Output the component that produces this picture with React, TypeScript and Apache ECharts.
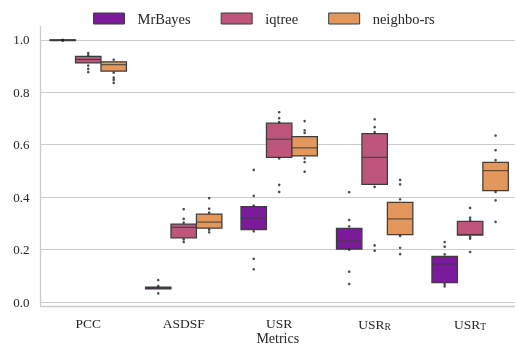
import React, { useEffect, useRef } from 'react';
import * as echarts from 'echarts';

const categories = ['PCC', 'ASDSF', 'USR', 'USR', 'USR'];
const categorySubscripts = ['', '', '', 'R', 'T'];
const seriesNames = ['MrBayes', 'iqtree', 'neighbo-rs'];
const seriesColors = ['#7b1b9b', '#c0557b', '#e3975a'];
const yTicks = [0, 0.2, 0.4, 0.6, 0.8, 1.0];

// box statistics per series, one value per category
const mrbayesQ1 = [0.997, 0.05, 0.276, 0.202, 0.074];
const mrbayesMedian = [0.999, 0.054, 0.321, 0.232, 0.145];
const mrbayesQ3 = [1.0, 0.057, 0.364, 0.281, 0.174];
const iqtreeQ1 = [0.912, 0.245, 0.552, 0.449, 0.255];
const iqtreeMedian = [0.925, 0.285, 0.621, 0.552, 0.258];
const iqtreeQ3 = [0.937, 0.297, 0.682, 0.642, 0.308];
const neighborsQ1 = [0.881, 0.282, 0.557, 0.257, 0.425];
const neighborsMedian = [0.905, 0.305, 0.588, 0.317, 0.501];
const neighborsQ3 = [0.916, 0.335, 0.631, 0.38, 0.533];

// individual points per series, one list per category
const mrbayesPoints = [
  [0.997, 1.0],
  [0.033, 0.061, 0.084],
  [0.125, 0.165, 0.27, 0.368, 0.405, 0.504],
  [0.069, 0.116, 0.2, 0.289, 0.313, 0.419],
  [0.06, 0.068, 0.182, 0.211, 0.229],
];
const iqtreePoints = [
  [0.877, 0.889, 0.902, 0.941, 0.949],
  [0.229, 0.239, 0.303, 0.317, 0.354],
  [0.42, 0.447, 0.548, 0.686, 0.701, 0.724],
  [0.196, 0.216, 0.439, 0.648, 0.667, 0.697],
  [0.191, 0.242, 0.249, 0.313, 0.322, 0.359],
];
const neighborsPoints = [
  [0.836, 0.847, 0.856, 0.875, 0.924],
  [0.266, 0.276, 0.341, 0.356, 0.396],
  [0.497, 0.534, 0.548, 0.645, 0.655, 0.69],
  [0.183, 0.207, 0.252, 0.392, 0.449, 0.466],
  [0.306, 0.388, 0.42, 0.541, 0.579, 0.635],
];

const boxQ1 = [mrbayesQ1, iqtreeQ1, neighborsQ1];
const boxMedian = [mrbayesMedian, iqtreeMedian, neighborsMedian];
const boxQ3 = [mrbayesQ3, iqtreeQ3, neighborsQ3];
const points = [mrbayesPoints, iqtreePoints, neighborsPoints];

const FONT = 'Liberation Serif';
const TEXT = '#262626';
const GRID = '#cccccc';
const EDGE = '#3d3d3d';
const BOX_W = 0.8 / 3;

export default function App() {
  const ref = useRef<HTMLDivElement>(null);

  useEffect(() => {
    const chart = echarts.init(ref.current!, null, { renderer: 'svg' });

    const boxSeries = seriesNames.map((name, s) => ({
      type: 'custom',
      name,
      itemStyle: { color: seriesColors[s] },
      encode: { x: 0, y: [1, 2, 3] },
      data: categories.map((_, i) => [i, boxQ1[s][i], boxMedian[s][i], boxQ3[s][i]]),
      z: 2,
      renderItem: (params: any, api: any) => {
        const x = api.value(0) + (s - 1) * BOX_W;
        const tl = api.coord([x - BOX_W / 2, api.value(3)]);
        const br = api.coord([x + BOX_W / 2, api.value(1)]);
        const ml = api.coord([x - BOX_W / 2, api.value(2)]);
        const mr = api.coord([x + BOX_W / 2, api.value(2)]);
        return {
          type: 'group',
          children: [
            {
              type: 'rect',
              shape: { x: tl[0], y: tl[1], width: br[0] - tl[0], height: br[1] - tl[1] },
              style: { fill: seriesColors[s], stroke: EDGE, lineWidth: 1.25 },
            },
            {
              type: 'line',
              shape: { x1: ml[0], y1: ml[1], x2: mr[0], y2: mr[1] },
              style: { stroke: EDGE, lineWidth: 1 },
            },
          ],
        };
      },
    }));

    const pointSeries = seriesNames.map((name, s) => ({
      type: 'scatter',
      name: name + ' points',
      symbolSize: 2.6,
      itemStyle: { color: '#1f1f1f' },
      z: 3,
      data: points[s].flatMap((vals, i) => vals.map((v) => [i + (s - 1) * BOX_W, v])),
    }));

    chart.setOption({
      animation: false,
      grid: { left: 40.5, right: 0, top: 26.7, bottom: 38, outerBoundsMode: 'none', containLabel: false },
      legend: {
        data: seriesNames.map((n, s) => ({
          name: n,
          itemStyle: { color: seriesColors[s], borderColor: EDGE, borderWidth: 1 },
        })),
        left: 93,
        top: 11,
        padding: 0,
        icon: 'rect',
        itemWidth: 31,
        itemHeight: 11,
        itemGap: 30,
        selectedMode: false,
        textStyle: { fontFamily: FONT, fontSize: 14.5, color: TEXT, padding: [0, 0, 0, 8] },
      },
      xAxis: {
        type: 'value',
        min: -0.5,
        max: 4.47,
        name: 'Metrics',
        nameLocation: 'middle',
        nameGap: 32,
        nameMoveOverlap: false,
        nameTextStyle: { fontFamily: FONT, fontSize: 14, color: TEXT, verticalAlign: 'middle' },
        axisLine: { show: true, onZero: false, lineStyle: { color: GRID, width: 1.3 } },
        axisTick: { show: false },
        splitLine: { show: false },
        axisLabel: {
          customValues: categories.map((_, i) => i),
          margin: 10,
          formatter: (v: number) => {
            const i = Math.round(v);
            const sub = categorySubscripts[i];
            return sub ? `{m|${categories[i]}}{s|${sub}}` : `{m|${categories[i]}}`;
          },
          rich: {
            m: { fontFamily: FONT, fontSize: 13.5, color: TEXT },
            s: { fontFamily: FONT, fontSize: 9.5, color: TEXT, padding: [6, 0, 0, 0] },
          },
        },
      },
      yAxis: {
        type: 'value',
        min: -0.015,
        max: 1.05,
        axisLine: { show: true, onZero: false, lineStyle: { color: GRID, width: 1.3 } },
        axisTick: { show: false, customValues: yTicks },
        splitLine: { show: true, lineStyle: { color: GRID, width: 1 } },
        axisLabel: {
          customValues: yTicks,
          margin: 11,
          fontFamily: FONT,
          fontSize: 13,
          color: TEXT,
          formatter: (v: number) => v.toFixed(1),
        },
      },
      series: [...boxSeries, ...pointSeries],
    });

    return () => chart.dispose();
  }, []);

  return <div ref={ref} style={{ position: 'fixed', left: 0, top: 0, width: 515, height: 344 }} />;
}
